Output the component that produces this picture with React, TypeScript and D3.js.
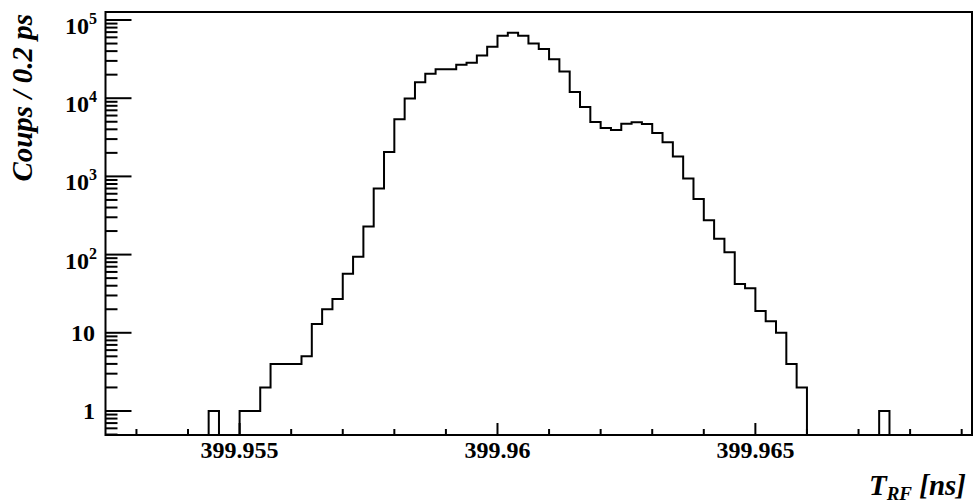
import React from "react";
import * as d3 from "d3";

const WIDTH = 973;
const HEIGHT = 503;
const FRAME = { left: 105.5, right: 972, top: 12, bottom: 435 };

// histogram: 84 bins of 0.2 ps starting at 399.9524 ns
const BIN_START = 399.9524;
const BIN_WIDTH = 0.0002;
const counts = [
  0, 0, 0, 0, 0, 0, 0, 0, 0, 0,
  1, 0, 0,
  1, 1, 2, 4, 4, 4, 5, 13, 20, 27, 57, 94, 229, 700, 2050, 5380,
  9900, 16000, 20500, 23500, 23500, 26800, 28400, 35200, 45500,
  63000, 68800, 63000, 50200, 42500, 31600, 22000, 12000, 7730,
  4970, 4160, 3920, 4730, 4920, 4690, 3600, 2730, 1800, 940, 515,
  274, 159, 107, 42, 37, 19, 14, 10, 4, 2,
  0, 0, 0, 0, 0, 0, 0, 1, 0, 0, 0, 0, 0, 0, 0, 0,
];
const xDomain = [399.9524, 399.9692];
const yDomain = [0.493, 1.266e5];
const xTitle = "T";
const xTitleSub = "RF";
const xTitleUnit = " [ns]";
const yTitle = "Coups / 0.2 ps";

const txt: React.CSSProperties = {
  fontFamily: "Liberation Serif",
  fontWeight: 700,
};

export default function App() {
  const x = d3.scaleLinear().domain(xDomain).range([FRAME.left, FRAME.right]);
  const y = d3.scaleLog().domain(yDomain).range([FRAME.bottom, FRAME.top]);

  // step outline, empty bins sit on the bottom of the frame
  const pts: [number, number][] = [];
  counts.forEach((c, i) => {
    const x0 = BIN_START + i * BIN_WIDTH;
    const x1 = x0 + BIN_WIDTH;
    const yy = c > 0 ? y(c) : FRAME.bottom;
    pts.push([x(x0), yy], [x(x1), yy]);
  });
  const path = d3.line()(pts);

  const yTicks = y.ticks();
  const isMajorY = (v: number) => Math.abs(Math.log10(v) - Math.round(Math.log10(v))) < 1e-9;
  const xTicks = x.ticks(17);
  const isMajorX = (v: number) => Math.abs(v * 200 - Math.round(v * 200)) < 1e-6;

  return (
    <svg
      width={WIDTH}
      height={HEIGHT}
      style={{ position: "absolute", left: 0, top: 0, background: "#fff" }}
    >
      <rect width={WIDTH} height={HEIGHT} fill="#fff" />
      <path d={path || ""} fill="none" stroke="#000" strokeWidth={2} />

      {/* y ticks */}
      {yTicks.map((v, i) => (
        <line
          key={`yt-${i}`}
          x1={FRAME.left}
          x2={FRAME.left + (isMajorY(v) ? 26 : 12)}
          y1={y(v)}
          y2={y(v)}
          stroke="#000"
          strokeWidth={2}
        />
      ))}
      {yTicks.filter(isMajorY).map((v, i) => {
        const e = Math.round(Math.log10(v));
        const yy = y(v);
        if (e < 2) {
          return (
            <text key={`yl-${i}`} x={95} y={yy + 8.5} fontSize={24} textAnchor="end" style={txt}>
              {e === 0 ? "1" : "10"}
            </text>
          );
        }
        return (
          <text key={`yl-${i}`} x={97} y={yy + 14} fontSize={24} textAnchor="end" style={txt}>
            10
            <tspan fontSize={16} dy={-10}>
              {e}
            </tspan>
          </text>
        );
      })}

      {/* x ticks */}
      {xTicks.map((v, i) => (
        <line
          key={`xt-${i}`}
          x1={x(v)}
          x2={x(v)}
          y1={FRAME.bottom}
          y2={FRAME.bottom - (isMajorX(v) ? 12 : 6)}
          stroke="#000"
          strokeWidth={2}
        />
      ))}
      {xTicks.filter(isMajorX).map((v, i) => (
        <text key={`xl-${i}`} x={x(v)} y={458} fontSize={24} textAnchor="middle" style={txt}>
          {String(+v.toFixed(3))}
        </text>
      ))}

      {/* frame */}
      <rect
        x={FRAME.left}
        y={FRAME.top}
        width={FRAME.right - FRAME.left}
        height={FRAME.bottom - FRAME.top}
        fill="none"
        stroke="#000"
        strokeWidth={2}
      />

      {/* titles */}
      <text x={966} y={495} fontSize={29} textAnchor="end" style={{ ...txt, fontStyle: "italic" }}>
        {xTitle}
        <tspan fontSize={19} dy={5}>
          {xTitleSub}
        </tspan>
        <tspan dy={-5}>{xTitleUnit}</tspan>
      </text>
      <text
        transform="translate(32,14) rotate(-90)"
        fontSize={29}
        textAnchor="end"
        style={{ ...txt, fontStyle: "italic" }}
      >
        {yTitle}
      </text>
    </svg>
  );
}
